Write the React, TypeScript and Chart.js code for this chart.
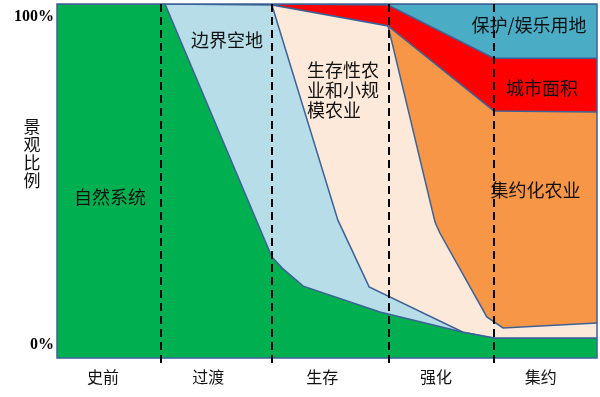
import React, { useEffect, useRef } from 'react';
import { Chart, registerables } from 'chart.js';

Chart.register(...registerables);

// ---- categories / axes ----
const phaseNames = ['史前', '过渡', '生存', '强化', '集约'];
const phaseLabelX = [8.5, 28.0, 49.1, 70.2, 89.6];
const phaseBoundaries = [19.3, 39.8, 61.5, 80.9];
const yTickValues = [3.7, 96.3];
const yTickLabels = ['0%', '100%'];
const yTitleChars = ['景', '观', '比', '例'];

// ---- series: cumulative top boundary of each land-use layer (x: timeline %, y: landscape share %) ----
const naturalTop = [[0, 100], [20, 100], [39.8, 28.5], [41.7, 25.4], [45.6, 20.3], [59.8, 13.0], [75.2, 7.3], [81.1, 5.6], [100, 5.6]];
const frontierTop = [[0, 100], [20, 100], [39.8, 99.7], [52.0, 39.0], [57.8, 20.1], [75.2, 7.3], [81.1, 5.6], [100, 5.6]];
const subsistenceTop = [[0, 100], [39.8, 99.7], [61.3, 93.8], [70.0, 38.4], [70.9, 35.3], [79.6, 11.6], [82.6, 8.5], [100, 9.9]];
const intensiveTop = [[0, 100], [39.8, 99.7], [61.3, 93.8], [80.9, 69.8], [100, 69.5]];
const urbanTop = [[0, 100], [39.8, 100], [61.3, 99.7], [80.9, 84.7], [100, 84.7]];
const protectedTop = [[0, 100], [100, 100]];

const seriesNames = ['自然系统', '边界空地', '生存性农业和小规模农业', '集约化农业', '城市面积', '保护/娱乐用地'];
const seriesColors = ['#00b050', '#b7dee8', '#fde9d9', '#f79646', '#ff0000', '#4bacc6'];
const seriesData = [naturalTop, frontierTop, subsistenceTop, intensiveTop, urbanTop, protectedTop];

// in-chart labels: lines, anchor (x, y in data units), alignment
const areaLabels = [
  { lines: ['自然系统'], x: 9.8, y: 45.5, align: 'center' },
  { lines: ['边界空地'], x: 31.5, y: 89.8, align: 'center' },
  { lines: ['生存性农', '业和小规', '模农业'], x: 46.3, y: 81.4, align: 'left' },
  { lines: ['集约化农业'], x: 88.6, y: 47.5, align: 'center' },
  { lines: ['城市面积'], x: 89.8, y: 76.3, align: 'center' },
  { lines: ['保护/娱乐用地'], x: 87.4, y: 94.1, align: 'center' },
];

const CJK = "'Noto Sans CJK SC', 'Noto Sans', sans-serif";
const OUTLINE = '#3c6196';

const decorPlugin = {
  id: 'decor',
  afterDatasetsDraw(chart: any) {
    const { ctx, chartArea, scales } = chart;
    const xs = scales.x;
    const ys = scales.y;
    ctx.save();
    // outline of plot
    ctx.strokeStyle = OUTLINE;
    ctx.lineWidth = 1.5;
    ctx.strokeRect(chartArea.left, chartArea.top, chartArea.right - chartArea.left, chartArea.bottom - chartArea.top);
    // dashed phase separators
    ctx.strokeStyle = '#000';
    ctx.lineWidth = 2;
    ctx.setLineDash([8, 5]);
    phaseBoundaries.forEach((v) => {
      const px = Math.round(xs.getPixelForValue(v));
      ctx.beginPath();
      ctx.moveTo(px, chartArea.top);
      ctx.lineTo(px, chartArea.bottom + 5);
      ctx.stroke();
    });
    ctx.setLineDash([]);
    // area labels
    ctx.fillStyle = '#111';
    ctx.font = `18px ${CJK}`;
    ctx.textBaseline = 'middle';
    areaLabels.forEach((lab) => {
      ctx.textAlign = lab.align as CanvasTextAlign;
      const px = xs.getPixelForValue(lab.x);
      const py = ys.getPixelForValue(lab.y);
      lab.lines.forEach((line, i) => {
        ctx.fillText(line, px, py + i * 20);
      });
    });
    // y-axis title, stacked vertically
    ctx.font = `17px ${CJK}`;
    ctx.textAlign = 'center';
    yTitleChars.forEach((c, i) => {
      ctx.fillText(c, 32, 127 + i * 18);
    });
    ctx.restore();
  },
};

export default function App() {
  const ref = useRef<HTMLCanvasElement | null>(null);

  useEffect(() => {
    if (!ref.current) return;
    const datasets = seriesData.map((pts, i) => ({
      label: seriesNames[i],
      data: pts.map(([x, y]) => ({ x, y })),
      backgroundColor: seriesColors[i],
      borderColor: OUTLINE,
      borderWidth: 1.5,
      pointRadius: 0,
      tension: 0,
      fill: i === 0 ? 'start' : '-1',
    }));
    const chart = new Chart(ref.current, {
      type: 'line',
      data: { datasets },
      plugins: [decorPlugin],
      options: {
        animation: false,
        responsive: false,
        layout: { padding: { top: 4, right: 3, left: 0, bottom: 0 } },
        plugins: { legend: { display: false }, tooltip: { enabled: false } },
        scales: {
          x: {
            type: 'linear',
            min: 0,
            max: 100,
            afterBuildTicks: (s: any) => {
              s.ticks = phaseLabelX.map((v) => ({ value: v }));
            },
            afterFit: (s: any) => {
              s.height = 39;
              s.paddingLeft = 0;
              s.paddingRight = 0;
            },
            ticks: {
              autoSkip: false,
              maxRotation: 0,
              padding: 9,
              color: '#111',
              font: { family: CJK, size: 16 },
              callback: (_v: any, i: number) => phaseNames[i],
            },
            grid: { display: false, drawTicks: false },
            border: { display: false },
          },
          y: {
            type: 'linear',
            min: 0,
            max: 100,
            afterBuildTicks: (s: any) => {
              s.ticks = yTickValues.map((v) => ({ value: v }));
            },
            afterFit: (s: any) => {
              s.width = 57;
              s.paddingTop = 0;
              s.paddingBottom = 0;
            },
            ticks: {
              padding: 3,
              color: '#000',
              font: { family: "'Liberation Serif', serif", size: 16, weight: 'bold' },
              callback: (_v: any, i: number) => yTickLabels[i],
            },
            grid: { display: false, drawTicks: false },
            border: { display: false },
          },
        },
      } as any,
    });
    return () => chart.destroy();
  }, []);

  return (
    <div style={{ position: 'absolute', left: 0, top: 0, width: 600, height: 397, background: '#fff' }}>
      <canvas ref={ref} width={600} height={397} style={{ display: 'block' }} />
    </div>
  );
}
